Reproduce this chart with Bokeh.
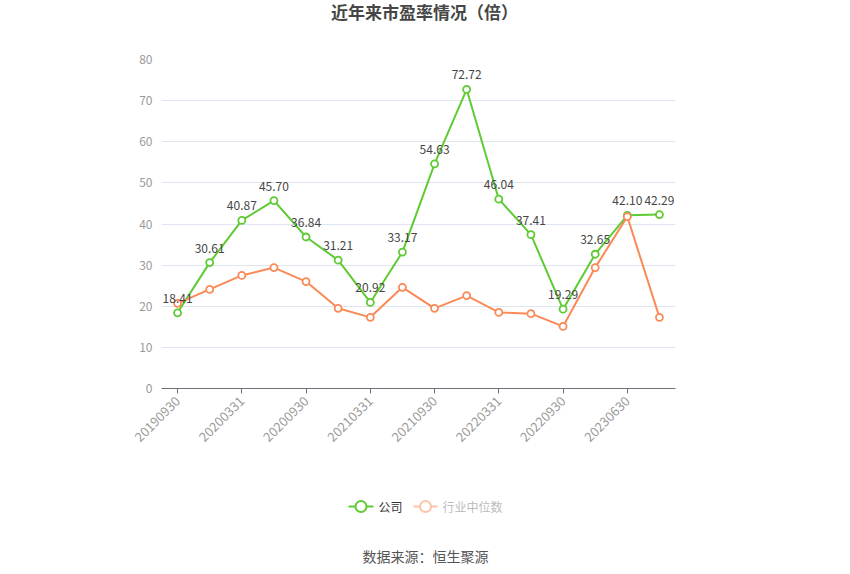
import math
from bokeh.plotting import figure
from bokeh.layouts import column
from bokeh.models import (ColumnDataSource, FixedTicker, Label, Range1d)
from bokeh.embed import file_html
from bokeh.resources import INLINE
from bokeh.core.properties import value

dates = ["20190930", "20191231", "20200331", "20200630", "20200930", "20201231",
         "20210331", "20210630", "20210930", "20211231", "20220331", "20220630",
         "20220930", "20221231", "20230630", "20230930"]
company = [18.41, 30.61, 40.87, 45.70, 36.84, 31.21, 20.92, 33.17, 54.63, 72.72,
           46.04, 37.41, 19.29, 32.65, 42.10, 42.29]
industry = [20.7, 24.1, 27.5, 29.4, 26.0, 19.5, 17.3, 24.6, 19.5, 22.6, 18.5, 18.2,
            15.1, 29.4, 41.8, 17.3]
y_ticks = [0, 10, 20, 30, 40, 50, 60, 70, 80]
series_names = ["公司", "行业中位数"]

GREEN = "#5ECB32"
ORANGE = "#F98A58"
FONT = "Noto Sans CJK SC"
W = 842
FL, FR = 161, 675  # frame left / right in page pixels


def blank(h):
    f = figure(width=W, height=h, output_backend="svg", toolbar_location=None,
               x_range=Range1d(FL, FR), y_range=Range1d(0, h),
               x_axis_location=None, y_axis_location=None,
               min_border_left=FL, min_border_right=W - FR,
               min_border_top=0, min_border_bottom=0)
    f.grid.grid_line_color = None
    f.outline_line_color = None
    return f


# ---- title ----
top = blank(36)
top.add_layout(Label(x=424, y=25, text="近年来市盈率情况（倍）", text_align="center",
                     text_baseline="middle", text_font=FONT, text_font_size="17px",
                     text_font_style="bold", text_color="#464646"))

# ---- main chart ----
idx = list(range(len(dates)))
src = ColumnDataSource(dict(x=idx, c=company, i=industry,
                            lab=["%.2f" % v for v in company]))

p = figure(width=W, height=434, output_backend="svg", toolbar_location=None,
           x_range=Range1d(-0.5, len(dates) - 0.5), y_range=Range1d(0, 80),
           min_border_left=FL, min_border_right=W - FR, min_border_top=23,
           min_border_bottom=82)
p.outline_line_color = None

p.xaxis.ticker = FixedTicker(ticks=idx[::2])
p.xaxis.major_label_overrides = {i: dates[i] for i in idx}
p.xaxis.major_label_orientation = math.pi / 4
p.xaxis.major_label_text_color = "#9A9A9A"
p.xaxis.major_label_text_font = FONT
p.xaxis.major_label_text_font_size = "13px"
p.xaxis.axis_line_color = "#6E7079"
p.xaxis.major_tick_line_color = "#6E7079"
p.xaxis.major_tick_in = 0
p.xaxis.major_tick_out = 5
p.xaxis.minor_tick_line_color = None

p.yaxis.ticker = FixedTicker(ticks=y_ticks)
p.yaxis.axis_line_color = None
p.yaxis.major_tick_line_color = None
p.yaxis.minor_tick_line_color = None
p.yaxis.major_label_text_color = "#9A9A9A"
p.yaxis.major_label_text_font = FONT
p.yaxis.major_label_text_font_size = "12px"
p.yaxis.major_label_standoff = 3

p.xgrid.grid_line_color = None
p.ygrid.grid_line_color = "#E0E6F1"
p.ygrid.ticker = FixedTicker(ticks=y_ticks[1:])

p.line("x", "c", source=src, line_color=GREEN, line_width=2)
p.scatter("x", "c", source=src, size=7, fill_color="white", line_color=GREEN, line_width=1.8)
p.line("x", "i", source=src, line_color=ORANGE, line_width=2)
p.scatter("x", "i", source=src, size=7, fill_color="white", line_color=ORANGE, line_width=1.8)

p.text("x", "c", text="lab", source=src, text_align="center", text_baseline="bottom",
       y_offset=-10, text_color="#464646", text_font=value(FONT), text_font_size="12px")

# ---- legend + source ----
bot = blank(96)
leg = ColumnDataSource(dict(
    x0=[348, 413], x1=[373, 437], xc=[360.5, 425], xt=[378, 442], y=[60, 60],
    name=series_names, col=[GREEN, "#FDC3A8"], tcol=["#333333", "#BBBBBB"]))
bot.segment("x0", "y", "x1", "y", source=leg, line_color="col", line_width=2)
bot.scatter("xc", "y", source=leg, size=11, fill_color="white", line_color="col", line_width=2)
bot.text("xt", "y", text="name", source=leg, text_align="left", text_baseline="middle",
         text_color="tcol", text_font=value(FONT), text_font_size="12px")
bot.add_layout(Label(x=425, y=11, text="数据来源：恒生聚源", text_align="center",
                     text_baseline="middle", text_font=FONT, text_font_size="14px",
                     text_color="#555555"))

layout = column(top, p, bot, spacing=0)
open("out.html", "w").write(file_html(layout, INLINE))
